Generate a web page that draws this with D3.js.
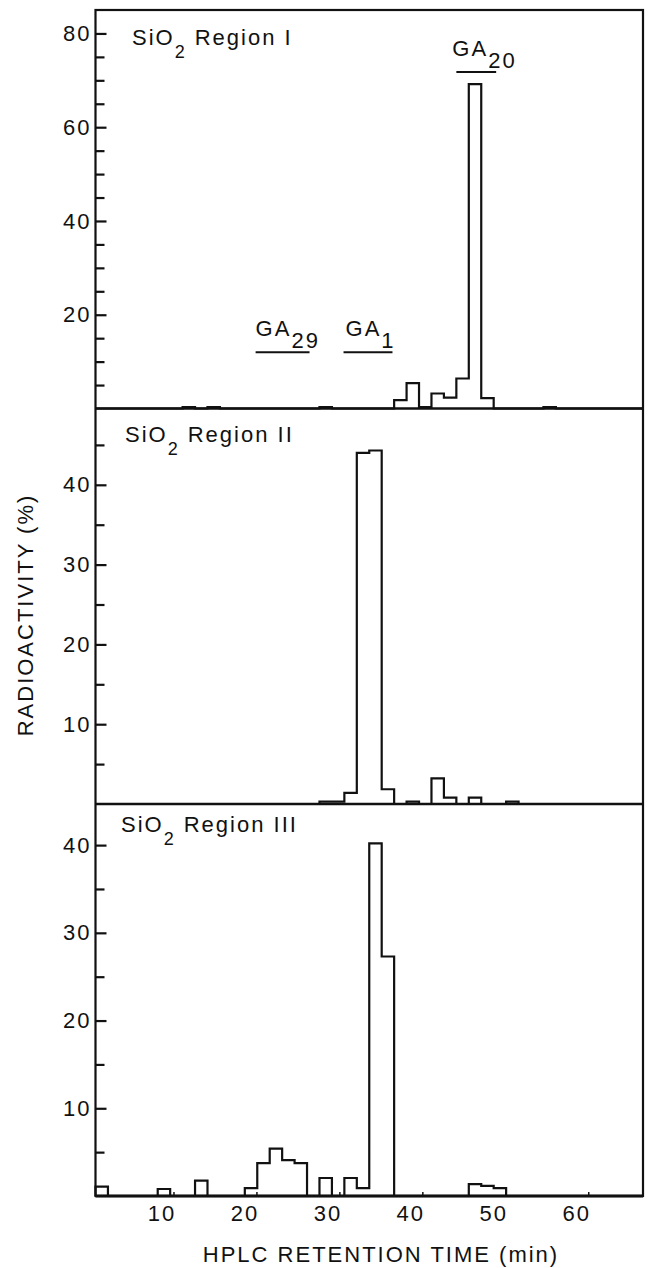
<!DOCTYPE html>
<html>
<head>
<meta charset="utf-8">
<script src="https://cdn.jsdelivr.net/npm/d3@7"></script>
<style>
  body { margin: 0; background: #fff; }
  text { font-family: "Liberation Sans", Arial, Helvetica, sans-serif; fill: #111; letter-spacing: 2px; }
</style>
</head>
<body>
<svg id="chart" width="649" height="1268"></svg>
<script>
// HPLC fractions, 1.5 min each; start time (min) and % radioactivity
const fractionWidth = 1.5;

const region1Times  = [11.1, 14.1, 27.6, 36.6, 38.1, 39.6, 41.1, 42.6, 44.1, 45.6, 47.1, 54.6];
const region1Values = [0.3, 0.3, 0.3, 1.8, 5.4, 0.3, 3.2, 2.3, 6.4, 69.2, 2.2, 0.3];

const region2Times  = [27.6, 29.1, 30.6, 32.1, 33.6, 35.1, 38.1, 41.1, 42.6, 45.6, 50.1];
const region2Values = [0.3, 0.3, 1.4, 44.0, 44.3, 1.85, 0.3, 3.2, 0.8, 0.8, 0.3];

const region3Times  = [0.6, 8.1, 12.6, 18.6, 20.1, 21.6, 23.1, 24.6, 27.6, 30.6, 32.1, 33.6, 35.1, 45.6, 47.1, 48.6];
const region3Values = [1.06, 0.8, 1.75, 0.9, 3.75, 5.4, 4.1, 3.75, 2.05, 2.05, 0.9, 40.2, 27.3, 1.35, 1.15, 0.9];

const regionNames = ["Region I", "Region II", "Region III"];
const yMax = [85, 49.5, 44.8];
const yLabelTicks = [[20, 40, 60, 80], [10, 20, 30, 40], [10, 20, 30, 40]];
const xTicks = [10, 20, 30, 40, 50, 60];

// retention windows of GA standards (drawn in region I)
const standardSubs  = ["29", "1", "20"];
const standardFrom  = [19.9, 30.5, 44.1];
const standardTo    = [26.4, 36.4, 48.9];
const standardLevel = [12, 12, 71.8];

const svg = d3.select("#chart");
const left = 95.5, right = 643;
const panelTop = [10, 409, 803], panelBottom = [408.5, 804, 1196];
const titlePos = [[132, 45], [125, 442], [121, 832]];

const x = d3.scaleLinear().domain([0.6, 66.6]).range([left, right]);

const regions = [
  {times: region1Times, values: region1Values},
  {times: region2Times, values: region2Values},
  {times: region3Times, values: region3Values}
];

// fraction grid over the whole run
const grid = d3.range(0.6, 66.6, fractionWidth);

regions.forEach((r, i) => {
  const y = d3.scaleLinear().domain([0, yMax[i]]).range([panelBottom[i], panelTop[i]]);
  r.y = y;
  const g = svg.append("g");

  // dense step series
  const lookup = new Map(r.times.map((t, j) => [t.toFixed(1), r.values[j]]));
  const pts = [[grid[0], 0]];
  grid.forEach(t => pts.push([t, lookup.get(t.toFixed(1)) || 0]));
  pts.push([grid[grid.length - 1] + fractionWidth, 0]);

  const line = d3.line()
    .x(d => x(d[0]))
    .y(d => y(d[1]))
    .curve(d3.curveStepAfter);

  g.append("path")
    .attr("d", line(pts))
    .attr("fill", "none")
    .attr("stroke", "#111")
    .attr("stroke-width", 2.2)
    .attr("stroke-linejoin", "miter");

  // minor ticks every 5
  const minor = d3.range(5, yMax[i], 5).filter(v => !yLabelTicks[i].includes(v));
  g.append("g")
    .attr("transform", `translate(${left},0)`)
    .call(d3.axisLeft(y).tickValues(minor).tickSize(-9).tickFormat(""))
    .call(a => a.select(".domain").remove())
    .call(a => a.selectAll("line").attr("stroke", "#111").attr("stroke-width", 2.2));

  g.append("g")
    .attr("transform", `translate(${left},0)`)
    .call(d3.axisLeft(y).tickValues(yLabelTicks[i]).tickSize(-11).tickPadding(4))
    .call(a => a.select(".domain").remove())
    .call(a => a.selectAll("line").attr("stroke", "#111").attr("stroke-width", 2.2))
    .call(a => a.selectAll("text").attr("font-size", 22).attr("fill", "#111"));

  // panel title SiO2 Region ...
  const t = g.append("text")
    .attr("x", titlePos[i][0]).attr("y", titlePos[i][1])
    .attr("font-size", 22);
  t.append("tspan").text("SiO");
  t.append("tspan").attr("dy", 13).attr("font-size", 18).text("2");
  t.append("tspan").attr("dy", -13).attr("dx", 8).text(regionNames[i]);
});

// frame
svg.append("rect")
  .attr("x", left).attr("y", panelTop[0])
  .attr("width", right - left).attr("height", panelBottom[2] - panelTop[0])
  .attr("fill", "none").attr("stroke", "#111").attr("stroke-width", 2.2);
panelBottom.forEach((b, i) => {
  svg.append("line")
    .attr("x1", left).attr("x2", right).attr("y1", b).attr("y2", b)
    .attr("stroke", "#111").attr("stroke-width", i === 2 ? 2.8 : 2.4);
});

// x axis
const xa = svg.append("g")
  .attr("transform", `translate(0,${panelBottom[2]})`)
  .call(d3.axisBottom(x).tickValues(xTicks).tickSize(-4).tickPadding(9))
  .call(a => a.select(".domain").remove())
  .call(a => a.selectAll("line").attr("stroke", "#111").attr("stroke-width", 1.5));
xa.selectAll("text").attr("font-size", 22).attr("fill", "#111").attr("dx", -12);

// standards markers in region I
const y1 = regions[0].y;
const labelShift = [0, 2, -4];
standardSubs.forEach((s, i) => {
  svg.append("line")
    .attr("x1", x(standardFrom[i])).attr("x2", x(standardTo[i]))
    .attr("y1", y1(standardLevel[i])).attr("y2", y1(standardLevel[i]))
    .attr("stroke", "#111").attr("stroke-width", 2);
  const t = svg.append("text")
    .attr("x", x(standardFrom[i]) + labelShift[i])
    .attr("y", y1(standardLevel[i]) - 16)
    .attr("font-size", 22);
  t.append("tspan").text("GA");
  t.append("tspan").attr("dy", 12).text(s);
});

// axis titles
svg.append("text")
  .attr("transform", "translate(33,615) rotate(-90)")
  .attr("text-anchor", "middle")
  .attr("font-size", 22)
  .text("RADIOACTIVITY (%)");

svg.append("text")
  .attr("x", 381).attr("y", 1262)
  .attr("text-anchor", "middle")
  .attr("font-size", 22)
  .text("HPLC RETENTION TIME (min)");
</script>
</body>
</html>
